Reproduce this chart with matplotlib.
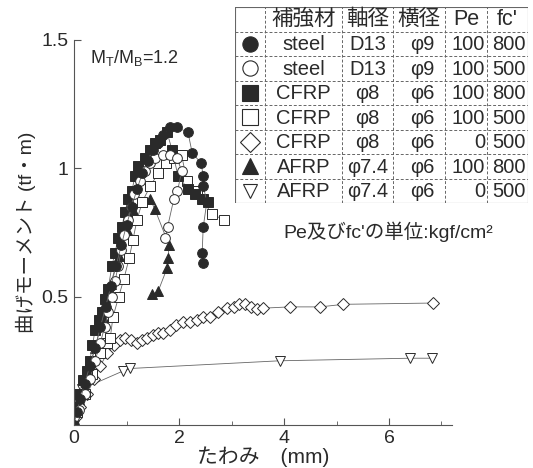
import matplotlib
matplotlib.use('Agg')
import matplotlib.pyplot as plt
from matplotlib.ticker import MultipleLocator

plt.rcParams['font.family'] = ['Liberation Sans', 'Noto Sans CJK JP', 'DejaVu Sans']

# Data
# --------------------------------------------------------------------------
# steel D13 / phi9, Pe=100, fc'=800 (filled circle)
steel800_x = [0, 0.05, 0.12, 0.2, 0.3, 0.4, 0.5, 0.6, 0.7, 0.8, 0.9, 1.0, 1.1, 1.2,
              1.3, 1.4, 1.5, 1.6, 1.7, 1.83, 1.96, 2.17, 2.25, 2.42, 2.46, 2.46,
              2.53, 2.46, 2.44, 2.46]
steel800_y = [0, 0.05, 0.1, 0.16, 0.23, 0.3, 0.38, 0.46, 0.54, 0.62, 0.7, 0.78, 0.85,
              0.92, 0.98, 1.03, 1.07, 1.1, 1.13, 1.16, 1.16, 1.14, 1.06, 1.02, 0.97,
              0.93, 0.87, 0.77, 0.67, 0.63]
# steel D13 / phi9, Pe=100, fc'=500 (open circle)
steel500_x = [0, 0.1, 0.2, 0.3, 0.4, 0.5, 0.58, 0.65, 0.72, 0.78, 0.84, 0.9, 0.96,
              1.02, 1.08, 1.15, 1.25, 1.35, 1.45, 1.55, 1.7, 1.83, 1.96, 2.05, 1.97,
              1.9, 1.78, 1.74]
steel500_y = [0.03, 0.06, 0.12, 0.18, 0.25, 0.32, 0.38, 0.44, 0.5, 0.56, 0.62, 0.68,
              0.74, 0.8, 0.85, 0.9, 0.95, 0.99, 1.02, 1.04, 1.05, 1.05, 1.04, 0.99,
              0.91, 0.88, 0.77, 0.73]
# CFRP phi8 / phi6, Pe=100, fc'=800 (filled square)
cfrp800_x = [0.02, 0.1, 0.17, 0.24, 0.3, 0.35, 0.4, 0.47, 0.53, 0.58, 0.65, 0.72, 0.78,
             0.84, 0.91, 0.97, 1.03, 1.1, 1.16, 1.22, 1.35, 1.45, 1.54, 1.64, 1.77,
             1.87, 1.98, 2.17, 2.3, 2.46, 2.55]
cfrp800_y = [0.07, 0.12, 0.175, 0.21, 0.25, 0.31, 0.37, 0.41, 0.44, 0.49, 0.53, 0.62,
             0.67, 0.73, 0.77, 0.83, 0.88, 0.91, 0.97, 1.01, 1.04, 1.07, 1.1, 1.11,
             1.14, 1.07, 0.97, 0.92, 0.9, 0.88, 0.87]
# CFRP phi8 / phi6, Pe=100, fc'=500 (open square)
cfrp500_x = [0.05, 0.2, 0.35, 0.5, 0.62, 0.69, 0.74, 0.85, 0.95, 1.05, 1.12, 1.2,
             1.3, 1.45, 1.6, 1.75, 1.9, 2.05, 2.15, 2.34, 2.44, 2.63, 2.86]
cfrp500_y = [0.05, 0.12, 0.2, 0.28, 0.32, 0.34, 0.42, 0.5, 0.57, 0.65, 0.72, 0.8,
             0.87, 0.93, 0.98, 1.02, 1.04, 1.05, 0.95, 0.91, 0.88, 0.82, 0.8]
# CFRP phi8 / phi6, Pe=0, fc'=500 (open diamond)
cfrp0_x = [0.03, 0.12, 0.25, 0.38, 0.5, 0.63, 0.76, 0.88, 0.97, 1.08, 1.2, 1.3, 1.39,
           1.5, 1.6, 1.7, 1.83, 1.95, 2.08, 2.2, 2.34, 2.45, 2.59, 2.75, 2.91, 3.05,
           3.15, 3.26, 3.38, 3.48, 3.6, 4.11, 4.69, 5.13, 6.84]
cfrp0_y = [0.03, 0.07, 0.12, 0.18, 0.23, 0.28, 0.31, 0.33, 0.34, 0.33, 0.32, 0.33,
           0.34, 0.35, 0.36, 0.36, 0.37, 0.39, 0.4, 0.4, 0.41, 0.42, 0.42, 0.44, 0.455,
           0.46, 0.47, 0.47, 0.46, 0.45, 0.455, 0.46, 0.46, 0.47, 0.475]
# AFRP phi7.4 / phi6, Pe=100, fc'=800 (filled triangle)
afrp800_x = [0, 0.1, 0.25, 0.4, 0.55, 0.7, 0.85, 1.0, 1.15, 1.3, 1.45, 1.54, 1.81,
             1.79, 1.77, 1.6, 1.49]
afrp800_y = [0, 0.1, 0.2, 0.3, 0.42, 0.55, 0.66, 0.76, 0.83, 0.87, 0.88, 0.84, 0.7,
             0.65, 0.61, 0.52, 0.51]
# AFRP phi7.4 / phi6, Pe=0, fc'=500 (open down triangle)
afrp0_x = [0, 0.08, 0.15, 0.93, 1.07, 3.92, 6.4, 6.82]
afrp0_y = [0, 0.08, 0.14, 0.21, 0.22, 0.25, 0.26, 0.26]

# legend table
table_header = ['', '補強材', '軸径', '横径', 'Pe', "fc'"]
table_mat = ['steel', 'steel', 'CFRP', 'CFRP', 'CFRP', 'AFRP', 'AFRP']
table_axial = ['D13', 'D13', 'φ8', 'φ8', 'φ8', 'φ7.4', 'φ7.4']
table_lat = ['φ9', 'φ9', 'φ6', 'φ6', 'φ6', 'φ6', 'φ6']
table_pe = ['100', '100', '100', '100', '0', '100', '0']
table_fc = ['800', '500', '800', '500', '500', '800', '500']
# --------------------------------------------------------------------------

ink = '#2a2a2a'
series = [
    (steel800_x, steel800_y, 'o', True),
    (steel500_x, steel500_y, 'o', False),
    (cfrp800_x, cfrp800_y, 's', True),
    (cfrp500_x, cfrp500_y, 's', False),
    (cfrp0_x, cfrp0_y, 'D', False),
    (afrp800_x, afrp800_y, '^', True),
    (afrp0_x, afrp0_y, 'v', False),
]
msizes = {'o': 7, 's': 7, 'D': 6, '^': 7, 'v': 6.5}

fig = plt.figure(figsize=(5.33, 4.68), dpi=100)
ax = fig.add_axes([0.139, 0.092, 0.709, 0.8226])

for x, y, m, filled in series[::-1]:
    ax.plot(x, y, color='#666666', lw=0.6, marker=m, ms=msizes[m],
            mfc=ink if filled else 'white', mec=ink, mew=0.7)

ax.set_xlim(0, 7.2)
ax.set_ylim(0, 1.5)
ax.spines['top'].set_visible(False)
ax.spines['right'].set_visible(False)
for s in ['left', 'bottom']:
    ax.spines[s].set_color('#555555')
    ax.spines[s].set_linewidth(0.8)
ax.xaxis.set_major_locator(MultipleLocator(2))
ax.xaxis.set_minor_locator(MultipleLocator(1))
ax.set_yticks([0.5, 1, 1.5])
ax.set_yticklabels(['0.5', '1', '1.5'])
ax.tick_params(direction='in', which='both', colors='#555555', labelcolor=ink,
               labelsize=14, length=5)
ax.tick_params(which='minor', length=3)
ax.tick_params(axis='y', pad=4)
ax.set_xlabel('たわみ　(mm)', fontsize=15, color=ink, labelpad=0)
ax.set_ylabel('曲げモーメント (tf・m)', fontsize=14, color=ink, labelpad=4)
ax.text(0.3, 1.43, r'M$_\mathregular{T}$/M$_\mathregular{B}$=1.2', fontsize=13,
        color=ink, va='center')

# legend table as an inset
tab = fig.add_axes([235 / 533, 1 - 203 / 468, 293 / 533, 196 / 468])
tab.set_xlim(235, 528)
tab.set_ylim(8, 0)
tab.axis('off')
col_edges = [235, 265, 342, 393, 445, 487, 528]
for i in range(1, 8):
    tab.axhline(i, color='#666666', lw=0.7, ls=(0, (3, 2)))
for c in col_edges[1:-1]:
    tab.axvline(c, color='#666666', lw=0.7, ls=(0, (3, 2)))
tab.plot([235, 528, 528, 235, 235], [0, 0, 8, 8, 0], color='#666666', lw=0.8)

centers = [(col_edges[k] + col_edges[k + 1]) / 2 for k in range(6)]
for k, h in enumerate(table_header):
    tab.text(centers[k], 0.52, h, ha='center', va='center', fontsize=15.5, color=ink)
for r in range(7):
    yy = r + 1.55
    x, y, m, filled = series[r]
    tab.plot(centers[0], yy - 0.05, marker=m, ms=msizes[m] + 4,
             mfc=ink if filled else 'white', mec=ink, mew=0.8)
    tab.text(centers[1], yy, table_mat[r], ha='center', va='center', fontsize=14.5, color=ink)
    tab.text(centers[2], yy, table_axial[r], ha='center', va='center', fontsize=14.5, color=ink)
    tab.text(centers[3] + 3, yy, table_lat[r], ha='center', va='center', fontsize=14.5, color=ink)
    tab.text(col_edges[5] - 2, yy, table_pe[r], ha='right', va='center', fontsize=14.5, color=ink)
    tab.text(col_edges[6] - 2, yy, table_fc[r], ha='right', va='center', fontsize=14.5, color=ink)

fig.text(388 / 533, 1 - 232 / 468, "Pe及びfc'の単位:kgf/cm²",
         ha='center', va='center', fontsize=14, color=ink)

fig.savefig('out.png', dpi=100, facecolor='white')
